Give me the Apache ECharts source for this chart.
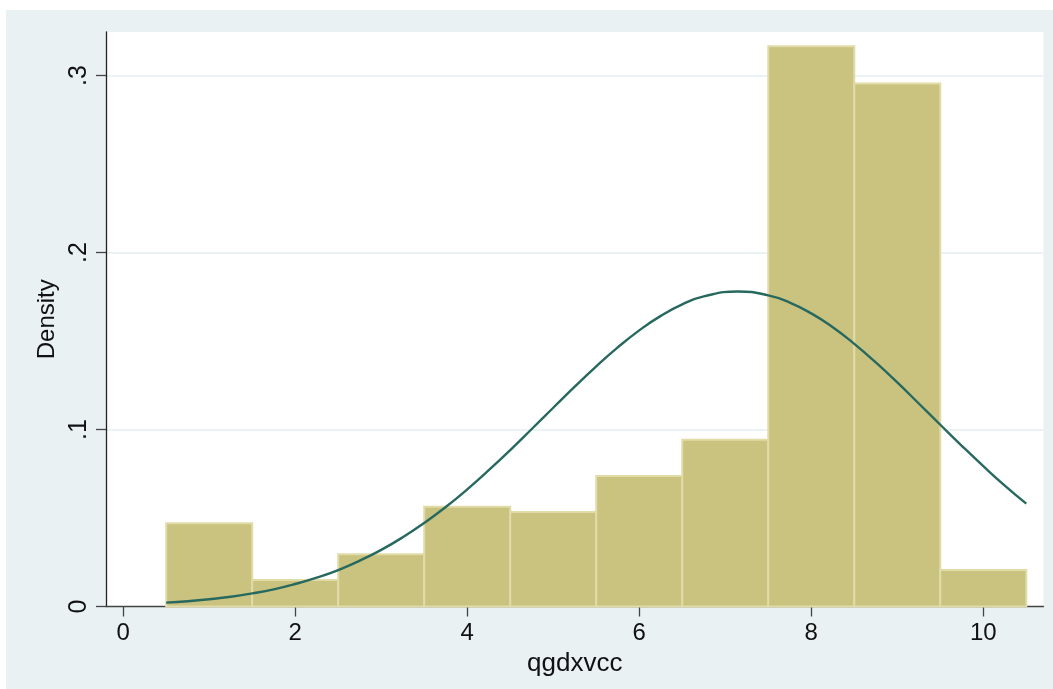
<!DOCTYPE html>
<html>
<head>
<meta charset="utf-8">
<title>qgdxvcc</title>
<script src="https://cdn.jsdelivr.net/npm/echarts@6/dist/echarts.min.js"></script>
<style>
  html, body { margin: 0; padding: 0; background: #ffffff; }
  #chart { position: absolute; left: 6px; top: 10px; width: 1047px; height: 679px; }
</style>
</head>
<body>
<div id="chart"></div>
<script>
// Histogram bins (lower edge, upper edge) and density of each bin
const binLower = [0.5, 1.5, 2.5, 3.5, 4.5, 5.5, 6.5, 7.5, 8.5, 9.5];
const binUpper = [1.5, 2.5, 3.5, 4.5, 5.5, 6.5, 7.5, 8.5, 9.5, 10.5];
const binDensity = [0.0471, 0.0150, 0.0295, 0.0563, 0.0534, 0.0738, 0.0942, 0.3166, 0.2955, 0.0206];

// Overlaid normal density curve, sampled along x (peak near 7.15)
const curveX = [0.5, 0.75, 1.0, 1.25, 1.5, 1.75, 2.0, 2.25, 2.5, 2.75,
                3.0, 3.25, 3.5, 3.75, 4.0, 4.25, 4.5, 4.75, 5.0, 5.25,
                5.5, 5.75, 6.0, 6.25, 6.5, 6.75, 7.15, 7.5, 7.75,
                8.0, 8.25, 8.5, 8.75, 9.0, 9.25, 9.5, 9.75, 10.0, 10.25, 10.5];
const curveY = [0.0022, 0.0030, 0.0041, 0.0055, 0.0074, 0.0097, 0.0127, 0.0163, 0.0206, 0.0259,
                0.0320, 0.0391, 0.0472, 0.0562, 0.0662, 0.0770, 0.0884, 0.1003, 0.1123, 0.1242,
                0.1357, 0.1464, 0.1560, 0.1642, 0.1707, 0.1752, 0.1780, 0.1758, 0.1717,
                0.1656, 0.1578, 0.1484, 0.1379, 0.1266, 0.1147, 0.1027, 0.0908, 0.0793, 0.0683, 0.0581];

// Axis ticks and their labels
const xTickValues = [0, 2, 4, 6, 8, 10];
const xTickLabels = ['0', '2', '4', '6', '8', '10'];
const yTickValues = [0, 0.1, 0.2, 0.3];
const yTickLabels = ['0', '.1', '.2', '.3'];

const FONT = 'Liberation Sans, Arial, Helvetica, sans-serif';
const BAR_FILL = '#cac27f';
const BAR_EDGE = '#e1dba8';
const CURVE = '#27695f';

const histData = binLower.map((lo, i) => [lo, binUpper[i], binDensity[i]]);
const curveData = curveX.map((x, i) => [x, curveY[i]]);

const chart = echarts.init(document.getElementById('chart'), null, { renderer: 'canvas' });
chart.setOption({
  backgroundColor: '#e9f1f3',
  animation: false,
  grid: {
    left: 100, right: 9.5, top: 22, bottom: 82.5,
    show: true, backgroundColor: '#ffffff', borderWidth: 0
  },
  xAxis: {
    type: 'value',
    min: -0.2, max: 10.7,
    name: 'qgdxvcc',
    nameLocation: 'middle',
    nameGap: 40,
    nameTextStyle: { fontFamily: FONT, fontSize: 26, color: '#111' },
    axisLine: { show: true, onZero: false, lineStyle: { color: '#444', width: 1.3 } },
    axisTick: { show: true, length: 10, customValues: xTickValues, lineStyle: { color: '#444', width: 1.3 } },
    axisLabel: {
      customValues: xTickValues,
      margin: 15,
      fontFamily: FONT, fontSize: 24, color: '#111',
      formatter: v => xTickLabels[xTickValues.indexOf(v)] ?? ''
    },
    splitLine: { show: false }
  },
  yAxis: {
    type: 'value',
    min: 0, max: 0.3246, interval: 0.1,
    name: 'Density',
    nameLocation: 'middle',
    nameGap: 45,
    nameRotate: 90,
    nameTextStyle: { fontFamily: FONT, fontSize: 24, color: '#111' },
    axisLine: { show: true, onZero: false, lineStyle: { color: '#222', width: 1.3 } },
    axisTick: { show: true, length: 10, customValues: yTickValues, lineStyle: { color: '#444', width: 1.3 } },
    axisLabel: {
      customValues: yTickValues,
      rotate: 90,
      margin: 14,
      fontFamily: FONT, fontSize: 25, color: '#111',
      formatter: v => {
        const i = yTickValues.findIndex(t => Math.abs(t - v) < 1e-9);
        return i >= 0 ? yTickLabels[i] : '';
      }
    },
    splitLine: { show: true, lineStyle: { color: '#e5eef0', width: 1.5 } }
  },
  series: [
    {
      type: 'custom',
      data: histData,
      encode: { x: [0, 1], y: 2 },
      z: 2,
      renderItem: (params, api) => {
        const topLeft = api.coord([api.value(0), api.value(2)]);
        const bottomRight = api.coord([api.value(1), 0]);
        return {
          type: 'rect',
          shape: {
            x: topLeft[0], y: topLeft[1],
            width: bottomRight[0] - topLeft[0],
            height: bottomRight[1] - topLeft[1]
          },
          style: { fill: BAR_FILL, stroke: BAR_EDGE, lineWidth: 2 }
        };
      }
    },
    {
      type: 'line',
      data: curveData,
      smooth: 0.5,
      showSymbol: false,
      z: 3,
      lineStyle: { color: CURVE, width: 2.4 }
    }
  ]
});
</script>
</body>
</html>
